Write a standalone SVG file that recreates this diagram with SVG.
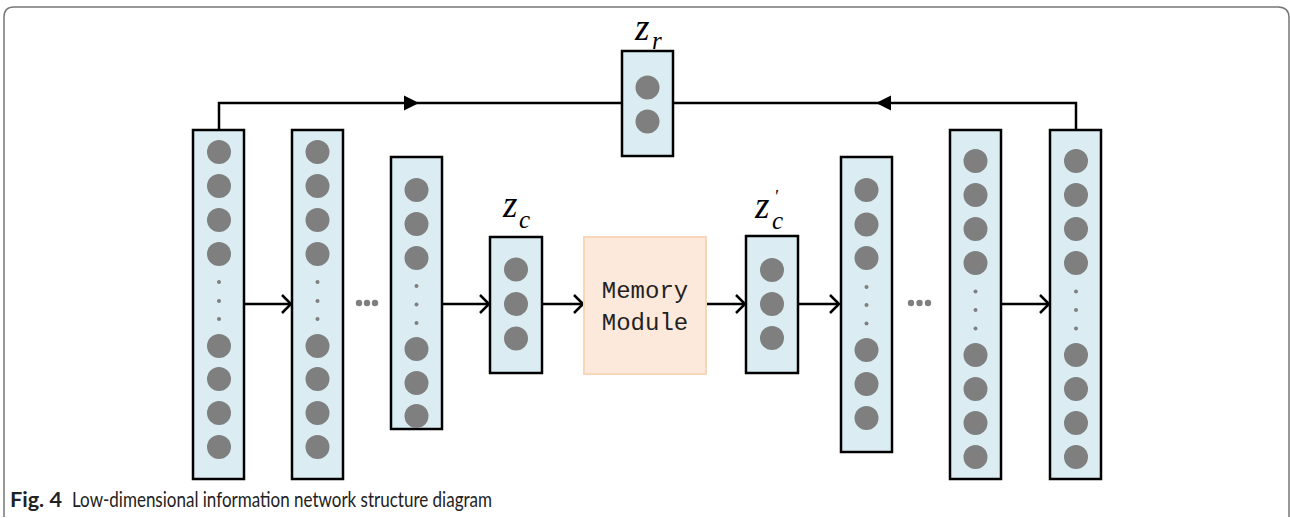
<svg xmlns="http://www.w3.org/2000/svg" width="1290" height="518" viewBox="0 0 1290 518">
<style>
.layer{fill:#dbedf3;stroke:#000;stroke-width:2.5}
.n{fill:#7f7f7f}
.d{fill:#7f7f7f}
.conn{fill:none;stroke:#000;stroke-width:2.5}
.lbl{font-family:"Liberation Serif",serif;font-style:italic;fill:#000}
.mem{fill:#fce9db;stroke:#f8d6b8;stroke-width:2}
.memt{font-family:"Liberation Mono",monospace;font-size:24px;fill:#222}
.cap{font-family:Lato,"Open Sans",sans-serif;font-size:20.5px;fill:#222}
</style>
<defs>
<marker id="open" markerUnits="userSpaceOnUse" markerWidth="14" markerHeight="22" viewBox="-12 -11 14 22" refX="0" refY="0" orient="auto">
<path d="M-9,-9 L0,0 L-9,9" fill="none" stroke="#000" stroke-width="2.5"/>
</marker>
</defs>
<path d="M4,517 V17 Q4,7 14,7 H1278 Q1289,7 1289,18 V517" fill="none" stroke="#777" stroke-width="1.5"/>

<g id="connectors">
<path class="conn" d="M219,130 V103 H622"/>
<polygon points="419,103 404,95.5 404,110.5" fill="#000"/>
<path class="conn" d="M1076,130 V103 H673"/>
<polygon points="876,103 891,95.5 891,110.5" fill="#000"/>
<line class="conn" x1="244" y1="304" x2="291" y2="304" marker-end="url(#open)"/>
<line class="conn" x1="442" y1="304" x2="489" y2="304" marker-end="url(#open)"/>
<line class="conn" x1="542" y1="304" x2="583" y2="304" marker-end="url(#open)"/>
<line class="conn" x1="706" y1="304" x2="745" y2="304" marker-end="url(#open)"/>
<line class="conn" x1="798" y1="304" x2="839" y2="304" marker-end="url(#open)"/>
<line class="conn" x1="1001" y1="304" x2="1049" y2="304" marker-end="url(#open)"/>
</g>

<g id="layer1">
<rect class="layer" x="193" y="130" width="51" height="349"/>
<circle class="n" cx="219" cy="152" r="12"/><circle class="n" cx="219" cy="186" r="12"/><circle class="n" cx="219" cy="220" r="12"/><circle class="n" cx="219" cy="254" r="12"/>
<circle class="d" cx="219" cy="282" r="2"/><circle class="d" cx="219" cy="301" r="2"/><circle class="d" cx="219" cy="319" r="2"/>
<circle class="n" cx="219" cy="346" r="12"/><circle class="n" cx="219" cy="379" r="12"/><circle class="n" cx="219" cy="413" r="12"/><circle class="n" cx="219" cy="447" r="12"/>
</g>
<g id="layer2">
<rect class="layer" x="292" y="130" width="51" height="349"/>
<circle class="n" cx="317.5" cy="152" r="12"/><circle class="n" cx="317.5" cy="186" r="12"/><circle class="n" cx="317.5" cy="220" r="12"/><circle class="n" cx="317.5" cy="254" r="12"/>
<circle class="d" cx="317.5" cy="282" r="2"/><circle class="d" cx="317.5" cy="301" r="2"/><circle class="d" cx="317.5" cy="319" r="2"/>
<circle class="n" cx="317.5" cy="346" r="12"/><circle class="n" cx="317.5" cy="379" r="12"/><circle class="n" cx="317.5" cy="413" r="12"/><circle class="n" cx="317.5" cy="447" r="12"/>
</g>
<g id="ellipsis-left">
<circle class="d" cx="359" cy="303" r="3.2"/><circle class="d" cx="367" cy="303" r="3.2"/><circle class="d" cx="375" cy="303" r="3.2"/>
</g>
<g id="layer3">
<rect class="layer" x="391" y="157" width="51" height="272"/>
<circle class="n" cx="416.5" cy="190" r="12"/><circle class="n" cx="416.5" cy="224" r="12"/><circle class="n" cx="416.5" cy="258" r="12"/>
<circle class="d" cx="416.5" cy="286" r="2"/><circle class="d" cx="416.5" cy="304.5" r="2"/><circle class="d" cx="416.5" cy="323" r="2"/>
<circle class="n" cx="416.5" cy="349" r="12"/><circle class="n" cx="416.5" cy="383" r="12"/><circle class="n" cx="416.5" cy="416" r="12"/>
</g>
<g id="zc">
<rect class="layer" x="490" y="237" width="52" height="136"/>
<circle class="n" cx="516" cy="269.5" r="12"/><circle class="n" cx="516" cy="304" r="12"/><circle class="n" cx="516" cy="338.5" r="12"/>
<text class="lbl" x="503" y="217" font-size="37">z</text>
<text class="lbl" x="519" y="228" font-size="25">c</text>
</g>
<g id="memory">
<rect class="mem" x="584" y="237" width="122" height="137"/>
<text class="memt" x="645" y="298" text-anchor="middle">Memory</text>
<text class="memt" x="645" y="330" text-anchor="middle">Module</text>
</g>
<g id="zc-prime">
<rect class="layer" x="746" y="236" width="52" height="137"/>
<circle class="n" cx="772" cy="270" r="12"/><circle class="n" cx="772" cy="304" r="12"/><circle class="n" cx="772" cy="338" r="12"/>
<text class="lbl" x="755" y="218" font-size="37">z</text>
<text class="lbl" x="772" y="229" font-size="25">c</text>
<text class="lbl" x="774" y="203" font-size="18" font-style="normal">'</text>
</g>
<g id="layer4">
<rect class="layer" x="841" y="157" width="51" height="295"/>
<circle class="n" cx="866.5" cy="190" r="12"/><circle class="n" cx="866.5" cy="224.5" r="12"/><circle class="n" cx="866.5" cy="258" r="12"/>
<circle class="d" cx="866.5" cy="287" r="2"/><circle class="d" cx="866.5" cy="305" r="2"/><circle class="d" cx="866.5" cy="323.5" r="2"/>
<circle class="n" cx="866.5" cy="350" r="12"/><circle class="n" cx="866.5" cy="384" r="12"/><circle class="n" cx="866.5" cy="418" r="12"/>
</g>
<g id="ellipsis-right">
<circle class="d" cx="911" cy="303" r="3.2"/><circle class="d" cx="919.5" cy="303" r="3.2"/><circle class="d" cx="928" cy="303" r="3.2"/>
</g>
<g id="layer5">
<rect class="layer" x="950" y="130" width="51" height="349"/>
<circle class="n" cx="975.5" cy="161" r="12"/><circle class="n" cx="975.5" cy="195" r="12"/><circle class="n" cx="975.5" cy="229" r="12"/><circle class="n" cx="975.5" cy="263" r="12"/>
<circle class="d" cx="975.5" cy="291.5" r="2"/><circle class="d" cx="975.5" cy="310" r="2"/><circle class="d" cx="975.5" cy="328.5" r="2"/>
<circle class="n" cx="975.5" cy="355" r="12"/><circle class="n" cx="975.5" cy="389" r="12"/><circle class="n" cx="975.5" cy="423" r="12"/><circle class="n" cx="975.5" cy="457" r="12"/>
</g>
<g id="layer6">
<rect class="layer" x="1050" y="130" width="51" height="349"/>
<circle class="n" cx="1076" cy="161" r="12"/><circle class="n" cx="1076" cy="195" r="12"/><circle class="n" cx="1076" cy="229" r="12"/><circle class="n" cx="1076" cy="263" r="12"/>
<circle class="d" cx="1076" cy="291.5" r="2"/><circle class="d" cx="1076" cy="310" r="2"/><circle class="d" cx="1076" cy="328.5" r="2"/>
<circle class="n" cx="1076" cy="355" r="12"/><circle class="n" cx="1076" cy="389" r="12"/><circle class="n" cx="1076" cy="423" r="12"/><circle class="n" cx="1076" cy="457" r="12"/>
</g>
<g id="zr">
<rect class="layer" x="622" y="51" width="51" height="105"/>
<circle class="n" cx="647.5" cy="87.5" r="12"/><circle class="n" cx="647.5" cy="121.5" r="12"/>
<text class="lbl" x="635" y="40" font-size="37">z</text>
<text class="lbl" x="652" y="49" font-size="25">r</text>
</g>
<text class="cap" x="10" y="507" font-weight="bold" textLength="52" lengthAdjust="spacingAndGlyphs">Fig. 4</text>
<text class="cap" x="72" y="507" textLength="420" lengthAdjust="spacingAndGlyphs">Low-dimensional information network structure diagram</text>
</svg>
